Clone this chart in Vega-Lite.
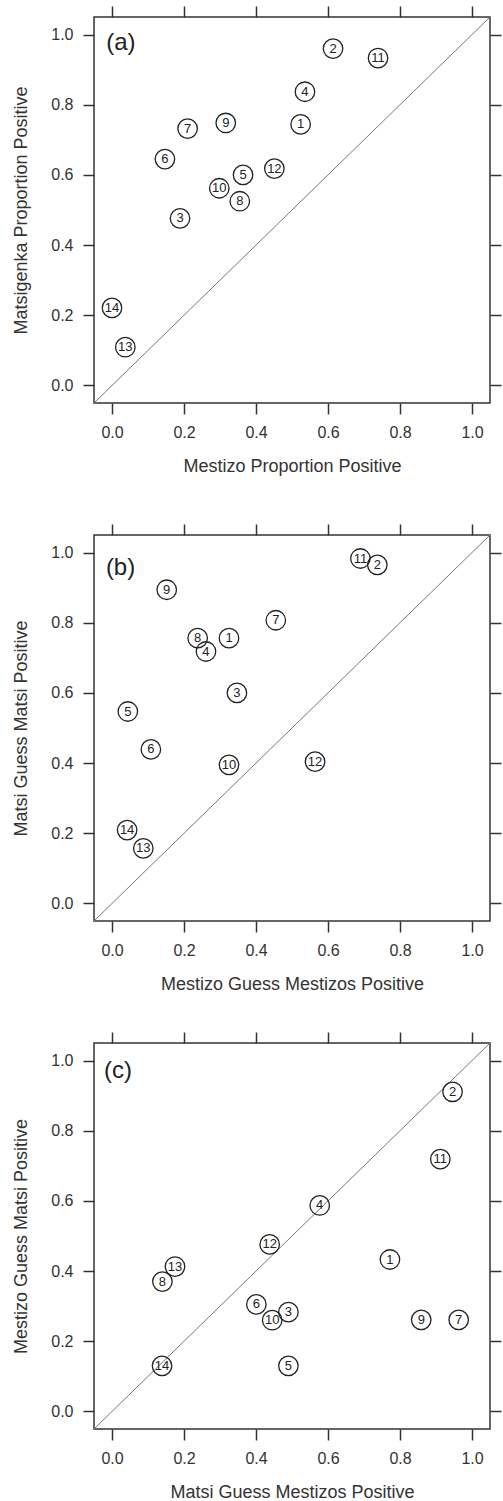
{
  "$schema": "https://vega.github.io/schema/vega-lite/v6.json",
  "padding": {"left": 12, "top": 4, "right": 0, "bottom": 0},
  "background": "white",
  "config": {
    "view": {"stroke": "#333", "strokeWidth": 1.5},
    "font": "Liberation Sans",
    "axis": {
      "domain": false,
      "grid": false,
      "tickSize": 11,
      "tickColor": "#333",
      "tickWidth": 1.5,
      "labelFont": "Liberation Sans",
      "labelFontSize": 16,
      "labelColor": "#333",
      "labelPadding": 10,
      "titleFont": "Liberation Sans",
      "titleFontSize": 18,
      "titleFontWeight": "normal",
      "titleColor": "#333",
      "titlePadding": 17
    },
    "axisLeft": {"titlePadding": 20}
  },
  "datasets": {
    "diag": [{"v": -0.05}, {"v": 1.05}],
    "a": [
      {"id": "1", "x": 0.524, "y": 0.744},
      {"id": "2", "x": 0.614, "y": 0.960},
      {"id": "3", "x": 0.189, "y": 0.476},
      {"id": "4", "x": 0.536, "y": 0.837},
      {"id": "5", "x": 0.364, "y": 0.600},
      {"id": "6", "x": 0.147, "y": 0.645},
      {"id": "7", "x": 0.210, "y": 0.732},
      {"id": "8", "x": 0.355, "y": 0.525},
      {"id": "9", "x": 0.316, "y": 0.748},
      {"id": "10", "x": 0.298, "y": 0.562},
      {"id": "11", "x": 0.739, "y": 0.933},
      {"id": "12", "x": 0.451, "y": 0.618},
      {"id": "13", "x": 0.037, "y": 0.109},
      {"id": "14", "x": 0.000, "y": 0.221}
    ],
    "b": [
      {"id": "1", "x": 0.325, "y": 0.756},
      {"id": "2", "x": 0.737, "y": 0.965},
      {"id": "3", "x": 0.347, "y": 0.600},
      {"id": "4", "x": 0.261, "y": 0.718},
      {"id": "5", "x": 0.044, "y": 0.547},
      {"id": "6", "x": 0.108, "y": 0.439},
      {"id": "7", "x": 0.455, "y": 0.807},
      {"id": "8", "x": 0.238, "y": 0.756},
      {"id": "9", "x": 0.152, "y": 0.894},
      {"id": "10", "x": 0.325, "y": 0.395},
      {"id": "11", "x": 0.690, "y": 0.983},
      {"id": "12", "x": 0.564, "y": 0.404},
      {"id": "13", "x": 0.087, "y": 0.157},
      {"id": "14", "x": 0.042, "y": 0.209}
    ],
    "c": [
      {"id": "1", "x": 0.772, "y": 0.433},
      {"id": "2", "x": 0.946, "y": 0.911},
      {"id": "3", "x": 0.490, "y": 0.283},
      {"id": "4", "x": 0.577, "y": 0.587},
      {"id": "5", "x": 0.490, "y": 0.130},
      {"id": "6", "x": 0.401, "y": 0.305},
      {"id": "7", "x": 0.963, "y": 0.261},
      {"id": "8", "x": 0.140, "y": 0.370},
      {"id": "9", "x": 0.859, "y": 0.261},
      {"id": "10", "x": 0.445, "y": 0.260},
      {"id": "11", "x": 0.912, "y": 0.719},
      {"id": "12", "x": 0.438, "y": 0.476},
      {"id": "13", "x": 0.175, "y": 0.413},
      {"id": "14", "x": 0.139, "y": 0.130}
    ],
    "labels": [
      {"panel": "a", "label": "(a)", "x": -0.016, "y": 0.977},
      {"panel": "b", "label": "(b)", "x": -0.017, "y": 0.957},
      {"panel": "c", "label": "(c)", "x": -0.022, "y": 0.969}
    ]
  },
  "spacing": 36,
  "vconcat": [
    {
      "spacing": 46,
      "vconcat": [
        {
          "width": 396, "height": 386,
          "resolve": {"axis": {"x": "independent", "y": "independent"}},
          "layer": [
            {
              "data": {"name": "diag"},
              "mark": {"type": "line", "color": "#777", "strokeWidth": 1},
              "encoding": {
                "x": {"field": "v", "type": "quantitative", "scale": {"domain": [-0.05, 1.05], "nice": false, "zero": false}, "axis": {"orient": "top", "labels": false, "title": null, "values": [0, 0.2, 0.4, 0.6, 0.8, 1.0]}},
                "y": {"field": "v", "type": "quantitative", "scale": {"domain": [-0.05, 1.05], "nice": false, "zero": false}, "axis": {"orient": "right", "labels": false, "title": null, "values": [0, 0.2, 0.4, 0.6, 0.8, 1.0]}}
              }
            },
            {
              "data": {"name": "a"},
              "mark": {"type": "point", "shape": "circle", "filled": false, "size": 380, "color": "#222", "strokeWidth": 1.3, "opacity": 1},
              "encoding": {
                "x": {"field": "x", "type": "quantitative", "axis": {"orient": "bottom", "title": "Mestizo Proportion Positive", "values": [0, 0.2, 0.4, 0.6, 0.8, 1.0], "format": ".1f"}},
                "y": {"field": "y", "type": "quantitative", "axis": {"orient": "left", "title": "Matsigenka Proportion Positive", "values": [0, 0.2, 0.4, 0.6, 0.8, 1.0], "format": ".1f"}}
              }
            },
            {
              "data": {"name": "a"},
              "mark": {"type": "text", "fontSize": 13, "color": "#222", "baseline": "middle", "align": "center"},
              "encoding": {
                "x": {"field": "x", "type": "quantitative", "axis": null},
                "y": {"field": "y", "type": "quantitative", "axis": null},
                "text": {"field": "id"}
              }
            },
            {
              "data": {"name": "labels"},
              "transform": [{"filter": "datum.panel === 'a'"}],
              "mark": {"type": "text", "fontSize": 24, "color": "#222", "baseline": "middle", "align": "left"},
              "encoding": {
                "x": {"field": "x", "type": "quantitative", "axis": null},
                "y": {"field": "y", "type": "quantitative", "axis": null},
                "text": {"field": "label"}
              }
            }
          ]
        },
        {
          "width": 396, "height": 386,
          "resolve": {"axis": {"x": "independent", "y": "independent"}},
          "layer": [
            {
              "data": {"name": "diag"},
              "mark": {"type": "line", "color": "#777", "strokeWidth": 1},
              "encoding": {
                "x": {"field": "v", "type": "quantitative", "scale": {"domain": [-0.05, 1.05], "nice": false, "zero": false}, "axis": {"orient": "top", "labels": false, "title": null, "values": [0, 0.2, 0.4, 0.6, 0.8, 1.0]}},
                "y": {"field": "v", "type": "quantitative", "scale": {"domain": [-0.05, 1.05], "nice": false, "zero": false}, "axis": {"orient": "right", "labels": false, "title": null, "values": [0, 0.2, 0.4, 0.6, 0.8, 1.0]}}
              }
            },
            {
              "data": {"name": "b"},
              "mark": {"type": "point", "shape": "circle", "filled": false, "size": 380, "color": "#222", "strokeWidth": 1.3, "opacity": 1},
              "encoding": {
                "x": {"field": "x", "type": "quantitative", "axis": {"orient": "bottom", "title": "Mestizo Guess Mestizos Positive", "values": [0, 0.2, 0.4, 0.6, 0.8, 1.0], "format": ".1f"}},
                "y": {"field": "y", "type": "quantitative", "axis": {"orient": "left", "title": "Matsi Guess Matsi Positive", "values": [0, 0.2, 0.4, 0.6, 0.8, 1.0], "format": ".1f"}}
              }
            },
            {
              "data": {"name": "b"},
              "mark": {"type": "text", "fontSize": 13, "color": "#222", "baseline": "middle", "align": "center"},
              "encoding": {
                "x": {"field": "x", "type": "quantitative", "axis": null},
                "y": {"field": "y", "type": "quantitative", "axis": null},
                "text": {"field": "id"}
              }
            },
            {
              "data": {"name": "labels"},
              "transform": [{"filter": "datum.panel === 'b'"}],
              "mark": {"type": "text", "fontSize": 24, "color": "#222", "baseline": "middle", "align": "left"},
              "encoding": {
                "x": {"field": "x", "type": "quantitative", "axis": null},
                "y": {"field": "y", "type": "quantitative", "axis": null},
                "text": {"field": "label"}
              }
            }
          ]
        }
      ]
    },
    {
      "width": 396, "height": 386,
      "resolve": {"axis": {"x": "independent", "y": "independent"}},
      "layer": [
        {
          "data": {"name": "diag"},
          "mark": {"type": "line", "color": "#777", "strokeWidth": 1},
          "encoding": {
            "x": {"field": "v", "type": "quantitative", "scale": {"domain": [-0.05, 1.05], "nice": false, "zero": false}, "axis": {"orient": "top", "labels": false, "title": null, "values": [0, 0.2, 0.4, 0.6, 0.8, 1.0]}},
            "y": {"field": "v", "type": "quantitative", "scale": {"domain": [-0.05, 1.05], "nice": false, "zero": false}, "axis": {"orient": "right", "labels": false, "title": null, "values": [0, 0.2, 0.4, 0.6, 0.8, 1.0]}}
          }
        },
        {
          "data": {"name": "c"},
          "mark": {"type": "point", "shape": "circle", "filled": false, "size": 380, "color": "#222", "strokeWidth": 1.3, "opacity": 1},
          "encoding": {
            "x": {"field": "x", "type": "quantitative", "axis": {"orient": "bottom", "title": "Matsi Guess Mestizos Positive", "values": [0, 0.2, 0.4, 0.6, 0.8, 1.0], "format": ".1f"}},
            "y": {"field": "y", "type": "quantitative", "axis": {"orient": "left", "title": "Mestizo Guess Matsi Positive", "values": [0, 0.2, 0.4, 0.6, 0.8, 1.0], "format": ".1f"}}
          }
        },
        {
          "data": {"name": "c"},
          "mark": {"type": "text", "fontSize": 13, "color": "#222", "baseline": "middle", "align": "center"},
          "encoding": {
            "x": {"field": "x", "type": "quantitative", "axis": null},
            "y": {"field": "y", "type": "quantitative", "axis": null},
            "text": {"field": "id"}
          }
        },
        {
          "data": {"name": "labels"},
          "transform": [{"filter": "datum.panel === 'c'"}],
          "mark": {"type": "text", "fontSize": 24, "color": "#222", "baseline": "middle", "align": "left"},
          "encoding": {
            "x": {"field": "x", "type": "quantitative", "axis": null},
            "y": {"field": "y", "type": "quantitative", "axis": null},
            "text": {"field": "label"}
          }
        }
      ]
    }
  ]
}
